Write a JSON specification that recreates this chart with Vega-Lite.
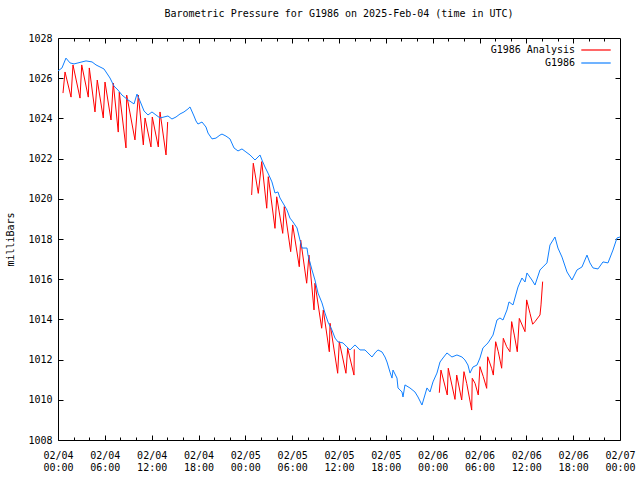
{
  "$schema": "https://vega.github.io/schema/vega-lite/v6.json",
  "width": 562,
  "height": 402,
  "autosize": {"type": "none"},
  "padding": {"left": 58, "top": 38, "right": 20, "bottom": 40},
  "background": "white",
  "title": {"text": "Barometric Pressure for G1986 on 2025-Feb-04 (time in UTC)", "font": "DejaVu Sans Mono", "fontSize": 10, "fontWeight": "normal", "color": "black", "anchor": "middle", "offset": 14},
  "datasets": {
    "obs": [
      {"series":"G1986","segment":0,"hour":0,"mb":1026.36},{"series":"G1986","segment":0,"hour":0.51,"mb":1026.51},{"series":"G1986","segment":0,"hour":1.02,"mb":1027.0},{"series":"G1986","segment":0,"hour":1.54,"mb":1026.76},{"series":"G1986","segment":0,"hour":2.05,"mb":1026.71},{"series":"G1986","segment":0,"hour":2.56,"mb":1026.76},{"series":"G1986","segment":0,"hour":3.07,"mb":1026.81},{"series":"G1986","segment":0,"hour":3.59,"mb":1026.86},{"series":"G1986","segment":0,"hour":4.36,"mb":1026.81},{"series":"G1986","segment":0,"hour":4.87,"mb":1026.66},{"series":"G1986","segment":0,"hour":5.38,"mb":1026.56},{"series":"G1986","segment":0,"hour":5.89,"mb":1026.46},{"series":"G1986","segment":0,"hour":6.15,"mb":1026.31},{"series":"G1986","segment":0,"hour":6.66,"mb":1026.01},{"series":"G1986","segment":0,"hour":7.17,"mb":1025.61},{"series":"G1986","segment":0,"hour":7.69,"mb":1025.41},{"series":"G1986","segment":0,"hour":8.2,"mb":1025.16},{"series":"G1986","segment":0,"hour":8.97,"mb":1024.92},{"series":"G1986","segment":0,"hour":9.74,"mb":1024.72},{"series":"G1986","segment":0,"hour":10.12,"mb":1025.21},{"series":"G1986","segment":0,"hour":10.5,"mb":1024.87},{"series":"G1986","segment":0,"hour":11.02,"mb":1024.37},{"series":"G1986","segment":0,"hour":11.53,"mb":1024.17},{"series":"G1986","segment":0,"hour":12.04,"mb":1024.32},{"series":"G1986","segment":0,"hour":12.55,"mb":1024.17},{"series":"G1986","segment":0,"hour":13.07,"mb":1024.02},{"series":"G1986","segment":0,"hour":13.58,"mb":1024.07},{"series":"G1986","segment":0,"hour":14.09,"mb":1024.12},{"series":"G1986","segment":0,"hour":14.6,"mb":1023.97},{"series":"G1986","segment":0,"hour":15.12,"mb":1024.07},{"series":"G1986","segment":0,"hour":15.63,"mb":1024.22},{"series":"G1986","segment":0,"hour":16.14,"mb":1024.32},{"series":"G1986","segment":0,"hour":16.65,"mb":1024.47},{"series":"G1986","segment":0,"hour":16.91,"mb":1024.57},{"series":"G1986","segment":0,"hour":17.42,"mb":1024.12},{"series":"G1986","segment":0,"hour":17.68,"mb":1023.87},{"series":"G1986","segment":0,"hour":17.93,"mb":1023.72},{"series":"G1986","segment":0,"hour":18.45,"mb":1023.82},{"series":"G1986","segment":0,"hour":18.96,"mb":1023.57},{"series":"G1986","segment":0,"hour":19.22,"mb":1023.27},{"series":"G1986","segment":0,"hour":19.73,"mb":1022.98},{"series":"G1986","segment":0,"hour":20.24,"mb":1023.02},{"series":"G1986","segment":0,"hour":20.75,"mb":1023.17},{"series":"G1986","segment":0,"hour":21.01,"mb":1023.22},{"series":"G1986","segment":0,"hour":21.52,"mb":1023.12},{"series":"G1986","segment":0,"hour":22.03,"mb":1022.98},{"series":"G1986","segment":0,"hour":22.55,"mb":1022.53},{"series":"G1986","segment":0,"hour":23.06,"mb":1022.38},{"series":"G1986","segment":0,"hour":23.57,"mb":1022.48},{"series":"G1986","segment":0,"hour":24.08,"mb":1022.33},{"series":"G1986","segment":0,"hour":24.6,"mb":1022.18},{"series":"G1986","segment":0,"hour":25.24,"mb":1021.93},{"series":"G1986","segment":0,"hour":25.88,"mb":1022.18},{"series":"G1986","segment":0,"hour":26.13,"mb":1021.93},{"series":"G1986","segment":0,"hour":26.52,"mb":1021.58},{"series":"G1986","segment":0,"hour":26.9,"mb":1021.28},{"series":"G1986","segment":0,"hour":27.41,"mb":1020.84},{"series":"G1986","segment":0,"hour":27.8,"mb":1020.29},{"series":"G1986","segment":0,"hour":28.18,"mb":1020.34},{"series":"G1986","segment":0,"hour":28.44,"mb":1020.04},{"series":"G1986","segment":0,"hour":28.82,"mb":1019.79},{"series":"G1986","segment":0,"hour":29.34,"mb":1019.44},{"series":"G1986","segment":0,"hour":29.72,"mb":1019.04},{"series":"G1986","segment":0,"hour":30.1,"mb":1018.85},{"series":"G1986","segment":0,"hour":30.62,"mb":1018.55},{"series":"G1986","segment":0,"hour":31.0,"mb":1017.95},{"series":"G1986","segment":0,"hour":31.26,"mb":1017.55},{"series":"G1986","segment":0,"hour":31.9,"mb":1017.55},{"series":"G1986","segment":0,"hour":32.03,"mb":1017.2},{"series":"G1986","segment":0,"hour":32.54,"mb":1016.46},{"series":"G1986","segment":0,"hour":32.92,"mb":1015.96},{"series":"G1986","segment":0,"hour":33.31,"mb":1015.31},{"series":"G1986","segment":0,"hour":33.82,"mb":1014.82},{"series":"G1986","segment":0,"hour":34.2,"mb":1014.32},{"series":"G1986","segment":0,"hour":34.59,"mb":1013.87},{"series":"G1986","segment":0,"hour":35.1,"mb":1013.47},{"series":"G1986","segment":0,"hour":35.49,"mb":1013.07},{"series":"G1986","segment":0,"hour":35.87,"mb":1012.88},{"series":"G1986","segment":0,"hour":36.51,"mb":1012.83},{"series":"G1986","segment":0,"hour":37.02,"mb":1012.63},{"series":"G1986","segment":0,"hour":37.41,"mb":1012.48},{"series":"G1986","segment":0,"hour":38.05,"mb":1012.73},{"series":"G1986","segment":0,"hour":38.69,"mb":1012.48},{"series":"G1986","segment":0,"hour":39.33,"mb":1012.48},{"series":"G1986","segment":0,"hour":39.71,"mb":1012.33},{"series":"G1986","segment":0,"hour":40.23,"mb":1012.13},{"series":"G1986","segment":0,"hour":40.61,"mb":1012.33},{"series":"G1986","segment":0,"hour":40.99,"mb":1012.48},{"series":"G1986","segment":0,"hour":41.51,"mb":1012.38},{"series":"G1986","segment":0,"hour":41.89,"mb":1012.13},{"series":"G1986","segment":0,"hour":42.15,"mb":1011.88},{"series":"G1986","segment":0,"hour":42.53,"mb":1011.38},{"series":"G1986","segment":0,"hour":42.79,"mb":1011.08},{"series":"G1986","segment":0,"hour":42.92,"mb":1011.48},{"series":"G1986","segment":0,"hour":43.43,"mb":1011.08},{"series":"G1986","segment":0,"hour":43.56,"mb":1010.59},{"series":"G1986","segment":0,"hour":44.07,"mb":1010.39},{"series":"G1986","segment":0,"hour":44.2,"mb":1010.14},{"series":"G1986","segment":0,"hour":44.45,"mb":1010.74},{"series":"G1986","segment":0,"hour":45.09,"mb":1010.59},{"series":"G1986","segment":0,"hour":45.73,"mb":1010.39},{"series":"G1986","segment":0,"hour":46.12,"mb":1010.14},{"series":"G1986","segment":0,"hour":46.63,"mb":1009.74},{"series":"G1986","segment":0,"hour":47.27,"mb":1010.59},{"series":"G1986","segment":0,"hour":47.66,"mb":1010.39},{"series":"G1986","segment":0,"hour":48.04,"mb":1010.89},{"series":"G1986","segment":0,"hour":48.55,"mb":1011.33},{"series":"G1986","segment":0,"hour":48.94,"mb":1011.88},{"series":"G1986","segment":0,"hour":49.32,"mb":1012.08},{"series":"G1986","segment":0,"hour":49.83,"mb":1012.33},{"series":"G1986","segment":0,"hour":50.47,"mb":1012.13},{"series":"G1986","segment":0,"hour":51.11,"mb":1012.23},{"series":"G1986","segment":0,"hour":51.75,"mb":1012.13},{"series":"G1986","segment":0,"hour":52.14,"mb":1011.98},{"series":"G1986","segment":0,"hour":52.52,"mb":1011.73},{"series":"G1986","segment":0,"hour":52.78,"mb":1011.33},{"series":"G1986","segment":0,"hour":53.16,"mb":1011.63},{"series":"G1986","segment":0,"hour":53.68,"mb":1011.73},{"series":"G1986","segment":0,"hour":54.06,"mb":1012.08},{"series":"G1986","segment":0,"hour":54.44,"mb":1012.58},{"series":"G1986","segment":0,"hour":55.09,"mb":1012.83},{"series":"G1986","segment":0,"hour":55.73,"mb":1013.22},{"series":"G1986","segment":0,"hour":56.24,"mb":1013.97},{"series":"G1986","segment":0,"hour":56.62,"mb":1014.07},{"series":"G1986","segment":0,"hour":57.01,"mb":1013.97},{"series":"G1986","segment":0,"hour":57.52,"mb":1014.47},{"series":"G1986","segment":0,"hour":57.78,"mb":1014.87},{"series":"G1986","segment":0,"hour":58.29,"mb":1014.72},{"series":"G1986","segment":0,"hour":58.93,"mb":1015.61},{"series":"G1986","segment":0,"hour":59.44,"mb":1016.06},{"series":"G1986","segment":0,"hour":59.83,"mb":1015.86},{"series":"G1986","segment":0,"hour":60.08,"mb":1016.31},{"series":"G1986","segment":0,"hour":60.72,"mb":1015.96},{"series":"G1986","segment":0,"hour":61.11,"mb":1015.71},{"series":"G1986","segment":0,"hour":61.75,"mb":1016.46},{"series":"G1986","segment":0,"hour":62.13,"mb":1016.61},{"series":"G1986","segment":0,"hour":62.64,"mb":1016.81},{"series":"G1986","segment":0,"hour":63.03,"mb":1017.7},{"series":"G1986","segment":0,"hour":63.67,"mb":1018.1},{"series":"G1986","segment":0,"hour":64.05,"mb":1017.55},{"series":"G1986","segment":0,"hour":64.57,"mb":1017.1},{"series":"G1986","segment":0,"hour":65.21,"mb":1016.36},{"series":"G1986","segment":0,"hour":65.85,"mb":1015.96},{"series":"G1986","segment":0,"hour":66.49,"mb":1016.46},{"series":"G1986","segment":0,"hour":67.13,"mb":1016.61},{"series":"G1986","segment":0,"hour":67.77,"mb":1017.2},{"series":"G1986","segment":0,"hour":68.15,"mb":1016.81},{"series":"G1986","segment":0,"hour":68.54,"mb":1016.56},{"series":"G1986","segment":0,"hour":69.18,"mb":1016.51},{"series":"G1986","segment":0,"hour":69.82,"mb":1016.86},{"series":"G1986","segment":0,"hour":70.46,"mb":1016.81},{"series":"G1986","segment":0,"hour":71.1,"mb":1017.45},{"series":"G1986","segment":0,"hour":71.61,"mb":1018.05},{"series":"G1986","segment":0,"hour":72.0,"mb":1018.1}
    ],
    "analysis": [
      {"series":"G1986 Analysis","segment":1,"hour":0.64,"mb":1025.26},{"series":"G1986 Analysis","segment":1,"hour":0.9,"mb":1026.31},{"series":"G1986 Analysis","segment":1,"hour":1.67,"mb":1025.06},{"series":"G1986 Analysis","segment":1,"hour":1.92,"mb":1026.66},{"series":"G1986 Analysis","segment":1,"hour":2.82,"mb":1025.01},{"series":"G1986 Analysis","segment":1,"hour":3.04,"mb":1026.66},{"series":"G1986 Analysis","segment":1,"hour":3.88,"mb":1025.06},{"series":"G1986 Analysis","segment":1,"hour":4.01,"mb":1026.51},{"series":"G1986 Analysis","segment":1,"hour":4.74,"mb":1024.32},{"series":"G1986 Analysis","segment":1,"hour":5.03,"mb":1025.91},{"series":"G1986 Analysis","segment":1,"hour":5.8,"mb":1024.02},{"series":"G1986 Analysis","segment":1,"hour":6.02,"mb":1025.81},{"series":"G1986 Analysis","segment":1,"hour":6.79,"mb":1023.92},{"series":"G1986 Analysis","segment":1,"hour":7.08,"mb":1025.76},{"series":"G1986 Analysis","segment":1,"hour":7.72,"mb":1023.32},{"series":"G1986 Analysis","segment":1,"hour":7.85,"mb":1025.31},{"series":"G1986 Analysis","segment":1,"hour":8.71,"mb":1022.53},{"series":"G1986 Analysis","segment":1,"hour":8.8,"mb":1025.16},{"series":"G1986 Analysis","segment":1,"hour":9.86,"mb":1022.93},{"series":"G1986 Analysis","segment":1,"hour":10.29,"mb":1025.16},{"series":"G1986 Analysis","segment":1,"hour":10.93,"mb":1022.68},{"series":"G1986 Analysis","segment":1,"hour":11.15,"mb":1024.02},{"series":"G1986 Analysis","segment":1,"hour":11.91,"mb":1022.58},{"series":"G1986 Analysis","segment":1,"hour":12.08,"mb":1024.07},{"series":"G1986 Analysis","segment":1,"hour":12.85,"mb":1022.58},{"series":"G1986 Analysis","segment":1,"hour":13.07,"mb":1024.32},{"series":"G1986 Analysis","segment":1,"hour":13.84,"mb":1022.18},{"series":"G1986 Analysis","segment":1,"hour":14.05,"mb":1023.82},
      {"series":"G1986 Analysis","segment":2,"hour":24.81,"mb":1020.19},{"series":"G1986 Analysis","segment":2,"hour":25.02,"mb":1021.77},{"series":"G1986 Analysis","segment":2,"hour":25.66,"mb":1020.27},{"series":"G1986 Analysis","segment":2,"hour":26.1,"mb":1021.85},{"series":"G1986 Analysis","segment":2,"hour":26.74,"mb":1019.53},{"series":"G1986 Analysis","segment":2,"hour":26.94,"mb":1021.1},{"series":"G1986 Analysis","segment":2,"hour":27.8,"mb":1018.53},{"series":"G1986 Analysis","segment":2,"hour":28.02,"mb":1020.1},{"series":"G1986 Analysis","segment":2,"hour":28.79,"mb":1018.28},{"series":"G1986 Analysis","segment":2,"hour":28.99,"mb":1019.61},{"series":"G1986 Analysis","segment":2,"hour":29.81,"mb":1017.37},{"series":"G1986 Analysis","segment":2,"hour":30.07,"mb":1018.7},{"series":"G1986 Analysis","segment":2,"hour":30.91,"mb":1016.62},{"series":"G1986 Analysis","segment":2,"hour":31.09,"mb":1017.95},{"series":"G1986 Analysis","segment":2,"hour":31.86,"mb":1015.8},{"series":"G1986 Analysis","segment":2,"hour":32.15,"mb":1017.2},{"series":"G1986 Analysis","segment":2,"hour":32.8,"mb":1014.47},{"series":"G1986 Analysis","segment":2,"hour":32.92,"mb":1015.8},{"series":"G1986 Analysis","segment":2,"hour":33.78,"mb":1013.56},{"series":"G1986 Analysis","segment":2,"hour":33.99,"mb":1014.47},{"series":"G1986 Analysis","segment":2,"hour":34.76,"mb":1012.39},{"series":"G1986 Analysis","segment":2,"hour":34.85,"mb":1013.81},{"series":"G1986 Analysis","segment":2,"hour":35.83,"mb":1011.32},{"series":"G1986 Analysis","segment":2,"hour":36.04,"mb":1012.89},{"series":"G1986 Analysis","segment":2,"hour":36.89,"mb":1011.32},{"series":"G1986 Analysis","segment":2,"hour":37.11,"mb":1012.56},{"series":"G1986 Analysis","segment":2,"hour":37.92,"mb":1011.23},{"series":"G1986 Analysis","segment":2,"hour":37.96,"mb":1012.51},
      {"series":"G1986 Analysis","segment":3,"hour":48.85,"mb":1010.35},{"series":"G1986 Analysis","segment":3,"hour":49.06,"mb":1011.48},{"series":"G1986 Analysis","segment":3,"hour":49.87,"mb":1010.24},{"series":"G1986 Analysis","segment":3,"hour":50.0,"mb":1011.57},{"series":"G1986 Analysis","segment":3,"hour":50.86,"mb":1010.02},{"series":"G1986 Analysis","segment":3,"hour":51.08,"mb":1011.23},{"series":"G1986 Analysis","segment":3,"hour":51.72,"mb":1009.99},{"series":"G1986 Analysis","segment":3,"hour":52.01,"mb":1011.4},{"series":"G1986 Analysis","segment":3,"hour":52.36,"mb":1010.82},{"series":"G1986 Analysis","segment":3,"hour":53.0,"mb":1009.49},{"series":"G1986 Analysis","segment":3,"hour":53.07,"mb":1011.07},{"series":"G1986 Analysis","segment":3,"hour":53.43,"mb":1010.82},{"series":"G1986 Analysis","segment":3,"hour":53.84,"mb":1010.24},{"series":"G1986 Analysis","segment":3,"hour":54.06,"mb":1011.65},{"series":"G1986 Analysis","segment":3,"hour":54.49,"mb":1011.15},{"series":"G1986 Analysis","segment":3,"hour":54.92,"mb":1010.57},{"series":"G1986 Analysis","segment":3,"hour":55.05,"mb":1012.14},{"series":"G1986 Analysis","segment":3,"hour":55.55,"mb":1011.57},{"series":"G1986 Analysis","segment":3,"hour":55.77,"mb":1011.23},{"series":"G1986 Analysis","segment":3,"hour":56.07,"mb":1012.89},{"series":"G1986 Analysis","segment":3,"hour":56.41,"mb":1012.39},{"series":"G1986 Analysis","segment":3,"hour":56.84,"mb":1011.57},{"series":"G1986 Analysis","segment":3,"hour":57.05,"mb":1013.06},{"series":"G1986 Analysis","segment":3,"hour":57.48,"mb":1012.64},{"series":"G1986 Analysis","segment":3,"hour":57.9,"mb":1012.39},{"series":"G1986 Analysis","segment":3,"hour":58.12,"mb":1013.89},{"series":"G1986 Analysis","segment":3,"hour":58.46,"mb":1013.22},{"series":"G1986 Analysis","segment":3,"hour":58.84,"mb":1012.39},{"series":"G1986 Analysis","segment":3,"hour":59.1,"mb":1014.05},{"series":"G1986 Analysis","segment":3,"hour":59.83,"mb":1013.39},{"series":"G1986 Analysis","segment":3,"hour":60.04,"mb":1014.97},{"series":"G1986 Analysis","segment":3,"hour":60.47,"mb":1014.3},{"series":"G1986 Analysis","segment":3,"hour":60.81,"mb":1013.76},{"series":"G1986 Analysis","segment":3,"hour":61.11,"mb":1013.89},{"series":"G1986 Analysis","segment":3,"hour":61.75,"mb":1014.22},{"series":"G1986 Analysis","segment":3,"hour":61.88,"mb":1014.72},{"series":"G1986 Analysis","segment":3,"hour":62.09,"mb":1015.88}
    ]
  },
  "layer": [
    {
      "data": {"name": "analysis"},
      "mark": {"type": "line", "strokeWidth": 1},
      "encoding": {
        "x": {"field": "hour", "type": "quantitative", "scale": {"domain": [0, 72], "nice": false, "zero": false},
          "axis": {"orient": "bottom", "title": null, "values": [0, 6, 12, 18, 24, 30, 36, 42, 48, 54, 60, 66, 72], "offset": -5, "tickSize": 5, "labelPadding": 10, "labelLineHeight": 12,
            "labelExpr": "['02/0' + (4 + floor(datum.value / 24)), (datum.value % 24 < 10 ? '0' : '') + (datum.value % 24) + ':00']"}},
        "y": {"field": "mb", "type": "quantitative", "scale": {"domain": [1008, 1028], "nice": false, "zero": false},
          "axis": {"orient": "left", "values": [1008, 1010, 1012, 1014, 1016, 1018, 1020, 1022, 1024, 1026, 1028], "offset": -5, "tickSize": 5, "labelPadding": 6, "format": "d",
            "title": "milliBars", "titleX": -53, "titleY": 201, "titleAngle": -90, "titleBaseline": "middle"}},
        "color": {"field": "series", "type": "nominal", "scale": {"domain": ["G1986 Analysis", "G1986"], "range": ["#ff0000", "#1080ff"]},
          "legend": {"orient": "none", "legendX": 530, "legendY": 4, "title": null, "symbolType": "M-2.1,0H2.1", "symbolSize": 196, "symbolStrokeWidth": 1.2,
            "labelAlign": "right", "labelOffset": -29, "labelFont": "DejaVu Sans Mono", "labelFontSize": 10, "labelColor": "black", "padding": 0, "rowPadding": 0}},
        "detail": {"field": "segment", "type": "nominal"}
      }
    },
    {
      "data": {"name": "obs"},
      "mark": {"type": "line", "strokeWidth": 1},
      "encoding": {
        "x": {"field": "hour", "type": "quantitative",
          "axis": {"orient": "bottom", "title": null, "labels": false, "values": [2, 4, 8, 10, 14, 16, 20, 22, 26, 28, 32, 34, 38, 40, 44, 46, 50, 52, 56, 58, 62, 64, 68, 70], "offset": -3, "tickSize": 3}},
        "y": {"field": "mb", "type": "quantitative",
          "axis": {"orient": "right", "title": null, "labels": false, "values": [1010, 1012, 1014, 1016, 1018, 1020, 1022, 1024, 1026], "offset": -5, "tickSize": 5}},
        "color": {"field": "series", "type": "nominal"}
      }
    },
    {
      "data": {"name": "obs"},
      "mark": {"type": "line", "opacity": 0},
      "encoding": {
        "x": {"field": "hour", "type": "quantitative",
          "axis": {"orient": "top", "title": null, "labels": false, "values": [6, 12, 18, 24, 30, 36, 42, 48, 54, 60, 66], "offset": -5, "tickSize": 5}},
        "y": {"field": "mb", "type": "quantitative", "axis": null}
      }
    },
    {
      "data": {"name": "obs"},
      "mark": {"type": "line", "opacity": 0},
      "encoding": {
        "x": {"field": "hour", "type": "quantitative",
          "axis": {"orient": "top", "title": null, "labels": false, "values": [2, 4, 8, 10, 14, 16, 20, 22, 26, 28, 32, 34, 38, 40, 44, 46, 50, 52, 56, 58, 62, 64, 68, 70], "offset": -3, "tickSize": 3}},
        "y": {"field": "mb", "type": "quantitative", "axis": null}
      }
    }
  ],
  "resolve": {"axis": {"x": "independent", "y": "independent"}},
  "config": {
    "view": {"stroke": "black", "strokeWidth": 1},
    "axis": {"domain": false, "grid": false, "ticks": true, "tickColor": "#000000", "tickOpacity": 1, "tickWidth": 1, "labelFont": "DejaVu Sans Mono", "labelFontSize": 10, "labelColor": "black",
      "titleFont": "DejaVu Sans Mono", "titleFontSize": 10, "titleFontWeight": "normal", "titleColor": "black", "labelOverlap": false, "labelFlush": false, "labelBound": false}
  }
}
